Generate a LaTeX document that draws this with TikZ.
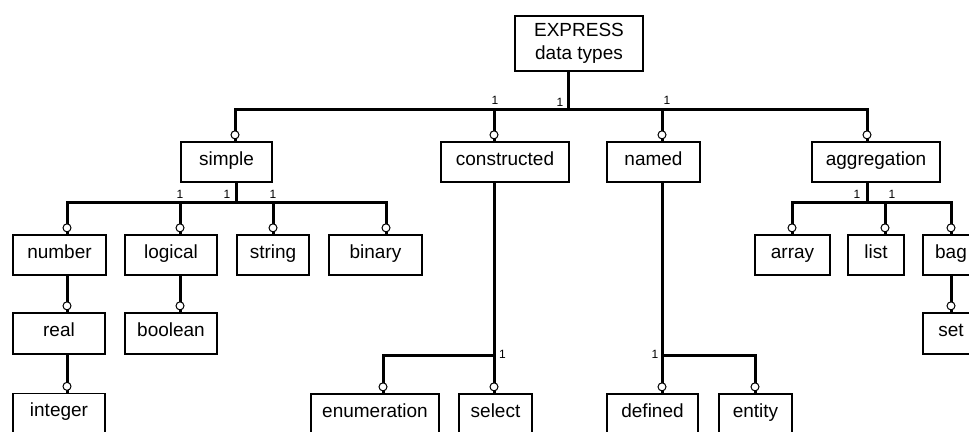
\documentclass[tikz,border=0pt]{standalone}
\usepackage{fontspec}
\setmainfont{Liberation Sans}
\usetikzlibrary{positioning}
\tikzset{
  box/.style={draw, line width=1.3pt, inner sep=0pt, minimum height=40pt, font=\fontsize{19}{23}\selectfont},
  item/.style={box, text height=12pt, text depth=6pt},
  link/.style={line width=3pt},
  ring/.style={circle, draw, fill=white, line width=1pt, inner sep=0pt, minimum size=8pt, above=2pt},
  mult/.style={inner sep=0pt, font=\fontsize{12}{14}\selectfont}
}

\begin{document}
\begin{tikzpicture}[x=1pt, y=-1pt]
  \useasboundingbox (0,0) rectangle (969,431);
  \clip (0,0) rectangle (969,431);
  % boxes
  \node[box, minimum width=128pt, minimum height=55pt, align=center] (express) at (579,43.5) {EXPRESS\\data types};
  \node[item, minimum width=91pt] (simple) at (226.5,162) {simple};
  \node[item, minimum width=128pt] (constructed) at (505,162) {constructed};
  \node[item, minimum width=93pt] (named) at (653.5,162) {named};
  \node[item, minimum width=128pt] (aggregation) at (876,162) {aggregation};
  \node[item, minimum width=93pt] (number) at (59.5,255) {number};
  \node[item, minimum width=92pt] (logical) at (171,255) {logical};
  \node[item, minimum width=72pt] (string) at (273,255) {string};
  \node[item, minimum width=93pt] (binary) at (375.5,255) {binary};
  \node[item, minimum width=75pt] (array) at (792.5,255) {array};
  \node[item, minimum width=56pt] (list) at (876,255) {list};
  \node[item, minimum width=56pt] (bag) at (951,255) {bag};
  \node[item, minimum width=92pt, minimum height=41pt] (real) at (59,333.5) {real};
  \node[item, minimum width=92pt, minimum height=41pt] (boolean) at (171,333.5) {boolean};
  \node[item, minimum width=56pt, minimum height=41pt] (set) at (951,333.5) {set};
  \node[item, minimum width=92pt] (integer) at (59,413.5) {integer};
  \node[item, minimum width=128pt] (enumeration) at (375,414) {enumeration};
  \node[item, minimum width=73pt] (select) at (495.5,414) {select};
  \node[item, minimum width=91pt] (defined) at (652.5,414) {defined};
  \node[item, minimum width=73pt] (entity) at (755.5,414) {entity};

  % EXPRESS data types
  \coordinate (hub0) at (568,109);
  \coordinate (dSimple) at (235,109);
  \coordinate (dCons) at (494,109);
  \coordinate (dNamed) at (662,109);
  \coordinate (dAggr) at (867,109);
  \draw[link] (express.south -| hub0) -- (hub0);
  \draw[link] (dSimple |- simple.north) node[ring]{} -- (dSimple) -- (dAggr) -- (dAggr |- aggregation.north) node[ring]{};
  \draw[link] (dCons) -- (dCons |- constructed.north) node[ring]{};
  \draw[link] (dNamed) -- (dNamed |- named.north) node[ring]{};
  \node[mult] (m1) at (495,100) {1};
  \node[mult] (m2) at (560,102) {1};
  \node[mult] (m3) at (667,100) {1};

  % simple
  \coordinate (hub1) at (236,202);
  \coordinate (dNumber) at (67,202);
  \coordinate (dLogical) at (180,202);
  \coordinate (dString) at (273,202);
  \coordinate (dBinary) at (386,202);
  \draw[link] (simple.south -| hub1) -- (hub1);
  \draw[link] (dNumber |- number.north) node[ring]{} -- (dNumber) -- (dBinary) -- (dBinary |- binary.north) node[ring]{};
  \draw[link] (dLogical) -- (dLogical |- logical.north) node[ring]{};
  \draw[link] (dString) -- (dString |- string.north) node[ring]{};
  \draw[link] (number.south -| dNumber) -- (real.north -| dNumber) node[ring]{};
  \draw[link] (real.south -| dNumber) -- (integer.north -| dNumber) node[ring]{};
  \draw[link] (logical.south -| dLogical) -- (boolean.north -| dLogical) node[ring]{};
  \node[mult] (m4) at (180,194) {1};
  \node[mult] (m5) at (227,194) {1};
  \node[mult] (m6) at (273,194) {1};

  % constructed and named
  \coordinate (hub3) at (494,355);
  \coordinate (dEnum) at (383,355);
  \draw[link] (constructed.south -| hub3) -- (select.north -| hub3) node[ring]{};
  \draw[link] (hub3) -- (dEnum) -- (dEnum |- enumeration.north) node[ring]{};
  \node[mult] (m7) at (502.5,354) {1};
  \coordinate (hub4) at (662,355);
  \coordinate (dEntity) at (755,355);
  \draw[link] (named.south -| hub4) -- (defined.north -| hub4) node[ring]{};
  \draw[link] (hub4) -- (dEntity) -- (dEntity |- entity.north) node[ring]{};
  \node[mult] (m8) at (655,354) {1};

  % aggregation
  \coordinate (hub2) at (867,202);
  \coordinate (dArray) at (792,202);
  \coordinate (dList) at (885,202);
  \coordinate (dBag) at (951,202);
  \draw[link] (aggregation.south -| hub2) -- (hub2);
  \draw[link] (dArray |- array.north) node[ring]{} -- (dArray) -- (dBag) -- (dBag |- bag.north) node[ring]{};
  \draw[link] (dList) -- (dList |- list.north) node[ring]{};
  \draw[link] (bag.south -| dBag) -- (set.north -| dBag) node[ring]{};
  \node[mult] (m9) at (857,194) {1};
  \node[mult] (m10) at (892,194) {1};
\end{tikzpicture}
\end{document}
